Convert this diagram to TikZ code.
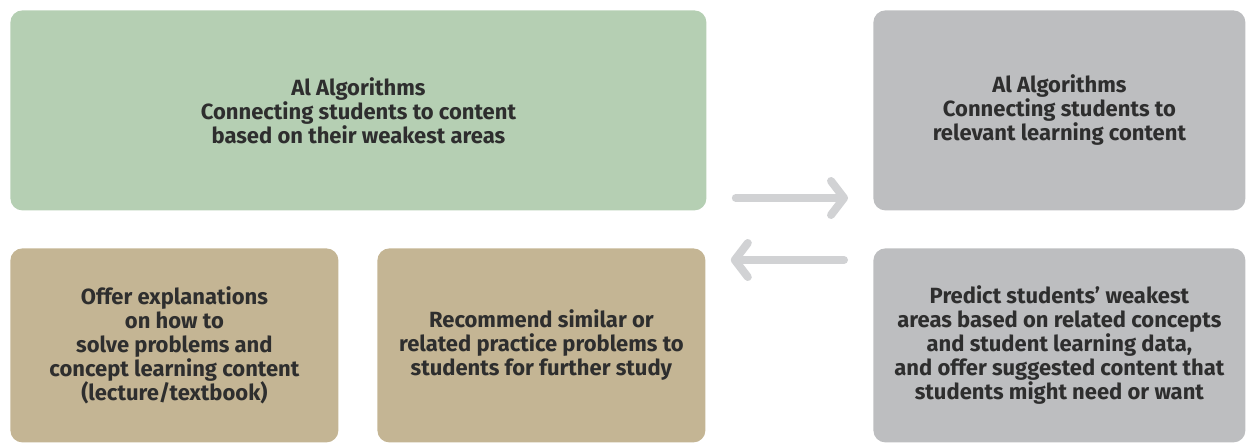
\documentclass[tikz,border=0pt]{standalone}
\usepackage{fontspec}
\setmainfont{Fira Sans}
\usetikzlibrary{arrows.meta}
\definecolor{aigreen}{HTML}{B5CFB3}
\definecolor{aigray}{HTML}{BDBEC0}
\definecolor{aitan}{HTML}{C4B594}
\definecolor{aitext}{HTML}{2E2E2E}
\definecolor{aiarrow}{HTML}{D1D2D4}
\begin{document}
\begin{tikzpicture}[x=0.5pt,y=-0.5pt,
    box/.style={rectangle, rounded corners=6pt, inner sep=0pt, align=center,
      anchor=north west, text=aitext, font=\fontsize{11}{12}\selectfont\bfseries},
    flow/.style={draw=aiarrow, line width=4pt, line cap=round,
      -{Straight Barb[length=6.5pt,width=17pt,round]}}]
  \useasboundingbox (0,0) rectangle (1247,444);
  % top row
  \node[box, fill=aigreen, minimum width=348pt, minimum height=100pt] (green) at (10,10)
    {Al Algorithms\\Connecting students to content\\based on their weakest areas};
  \node[box, fill=aigray, minimum width=186pt, minimum height=100pt] (graytop) at (873,10)
    {Al Algorithms\\Connecting students to\\relevant learning content};
  % bottom row
  \node[box, fill=aitan, minimum width=164pt, minimum height=97pt] (explain) at (10,248)
    {Offer explanations\\on how to\\solve problems and\\concept learning content\\(lecture/textbook)};
  \node[box, fill=aitan, minimum width=164pt, minimum height=97pt] (recommend) at (377,248)
    {Recommend similar or\\related practice problems to\\students for further study};
  \node[box, fill=aigray, minimum width=186pt, minimum height=97pt] (predict) at (873,248)
    {Predict students’ weakest\\areas based on related concepts\\and student learning data,\\and offer suggested content that\\students might need or want};
  % arrows
  \coordinate (upper) at (0,198);
  \coordinate (lower) at (0,260);
  \draw[flow, shorten <=14.5pt, shorten >=12.5pt] (green.east |- upper) -- (graytop.west |- upper);
  \draw[flow, shorten <=14.5pt, shorten >=12.5pt] (graytop.west |- lower) -- (recommend.east |- lower);
\end{tikzpicture}
\end{document}
